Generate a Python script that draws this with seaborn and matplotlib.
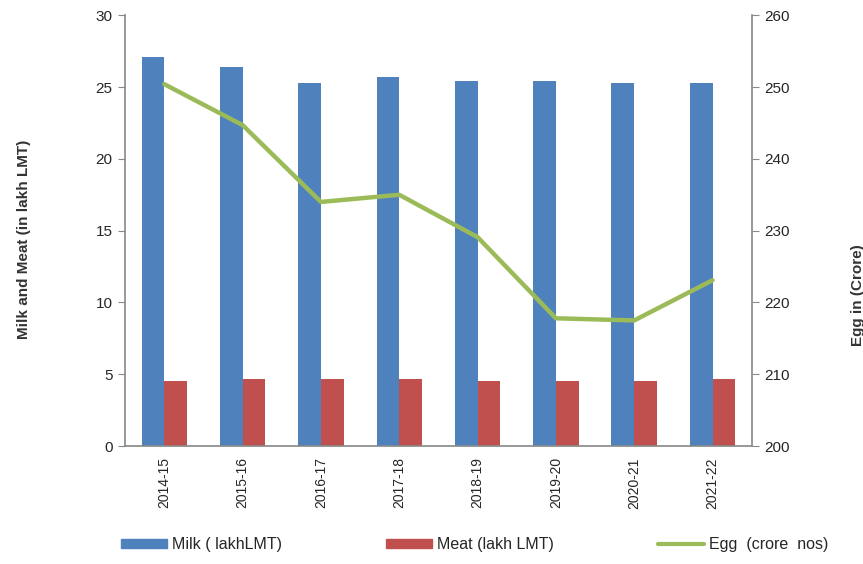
import numpy as np
import pandas as pd
import matplotlib
matplotlib.use('Agg')
import matplotlib.pyplot as plt
import seaborn as sns
from matplotlib.lines import Line2D
from matplotlib.patches import Patch

years = ['2014-15', '2015-16', '2016-17', '2017-18', '2018-19', '2019-20', '2020-21', '2021-22']
milk = [27.1, 26.4, 25.3, 25.7, 25.4, 25.4, 25.3, 25.3]
meat = [4.5, 4.7, 4.7, 4.7, 4.5, 4.5, 4.5, 4.7]
egg = [250.4, 244.7, 234.0, 235.0, 229.1, 217.8, 217.5, 223.1]

milk_color = '#4F81BD'
meat_color = '#C0504D'
egg_color = '#9BBB59'

sns.set_style('white')
plt.rcParams['font.family'] = ['Liberation Sans', 'DejaVu Sans']

df = pd.DataFrame({'year': years * 2,
                   'value': milk + meat,
                   'kind': ['Milk'] * len(years) + ['Meat'] * len(years)})

fig = plt.figure(figsize=(8.63, 5.64), dpi=100)
ax = fig.add_axes([0.145, 0.209, 0.726, 0.764])

sns.barplot(data=df, x='year', y='value', hue='kind', palette=[milk_color, meat_color],
            width=0.58, gap=0, ax=ax, legend=False, saturation=1, linewidth=0)
ax.set_ylim(0, 30)
ax.set_yticks(range(0, 31, 5))
ax.set_xlim(-0.5, len(years) - 0.5)

ax2 = ax.twinx()
ax2.plot(range(len(years)), egg, color=egg_color, lw=3.2)
ax2.set_ylim(200, 260)
ax2.set_yticks(range(200, 261, 10))

for a in (ax, ax2):
    for s in a.spines.values():
        s.set_visible(False)
ax.spines['left'].set_visible(True)
ax.spines['bottom'].set_visible(True)
ax2.spines['right'].set_visible(True)
for s in (ax.spines['left'], ax.spines['bottom'], ax2.spines['right']):
    s.set_color('#888888')
    s.set_linewidth(1.2)

ax.tick_params(axis='y', direction='out', length=5, color='#888888', labelsize=11, pad=4)
ax2.tick_params(axis='y', direction='out', length=5, color='#888888', labelsize=11, pad=4)
ax.set_xticks(range(len(years)))
ax.set_xticklabels(years, rotation=90, fontsize=10)
ax.set_xticks(np.arange(-0.5, len(years), 1), minor=True)
ax.tick_params(axis='x', which='major', length=0, pad=8)
ax.tick_params(axis='x', which='minor', direction='out', length=6, color='#888888')
ax.set_xlabel('')

ax.set_ylabel('Milk and Meat (in lakh LMT)', fontsize=11, fontweight='bold', color='#333333')
ax.yaxis.set_label_coords(-0.15, 0.48)
ax2.set_ylabel('Egg in (Crore)', fontsize=11, fontweight='bold', color='#333333')
ax2.yaxis.set_label_coords(1.158, 0.35)

handles = [Patch(color=milk_color), Patch(color=meat_color), Line2D([], [], color=egg_color, lw=3)]
labels = ['Milk ( lakhLMT)', 'Meat (lakh LMT)', 'Egg  (crore  nos)']
fig.legend(handles, labels, loc='lower center', bbox_to_anchor=(0.55, -0.005), ncol=3,
           frameon=False, fontsize=11.5, handlelength=2.9, handleheight=0.5,
           columnspacing=6.5, handletextpad=0.3)

fig.savefig('out.png', dpi=100)
